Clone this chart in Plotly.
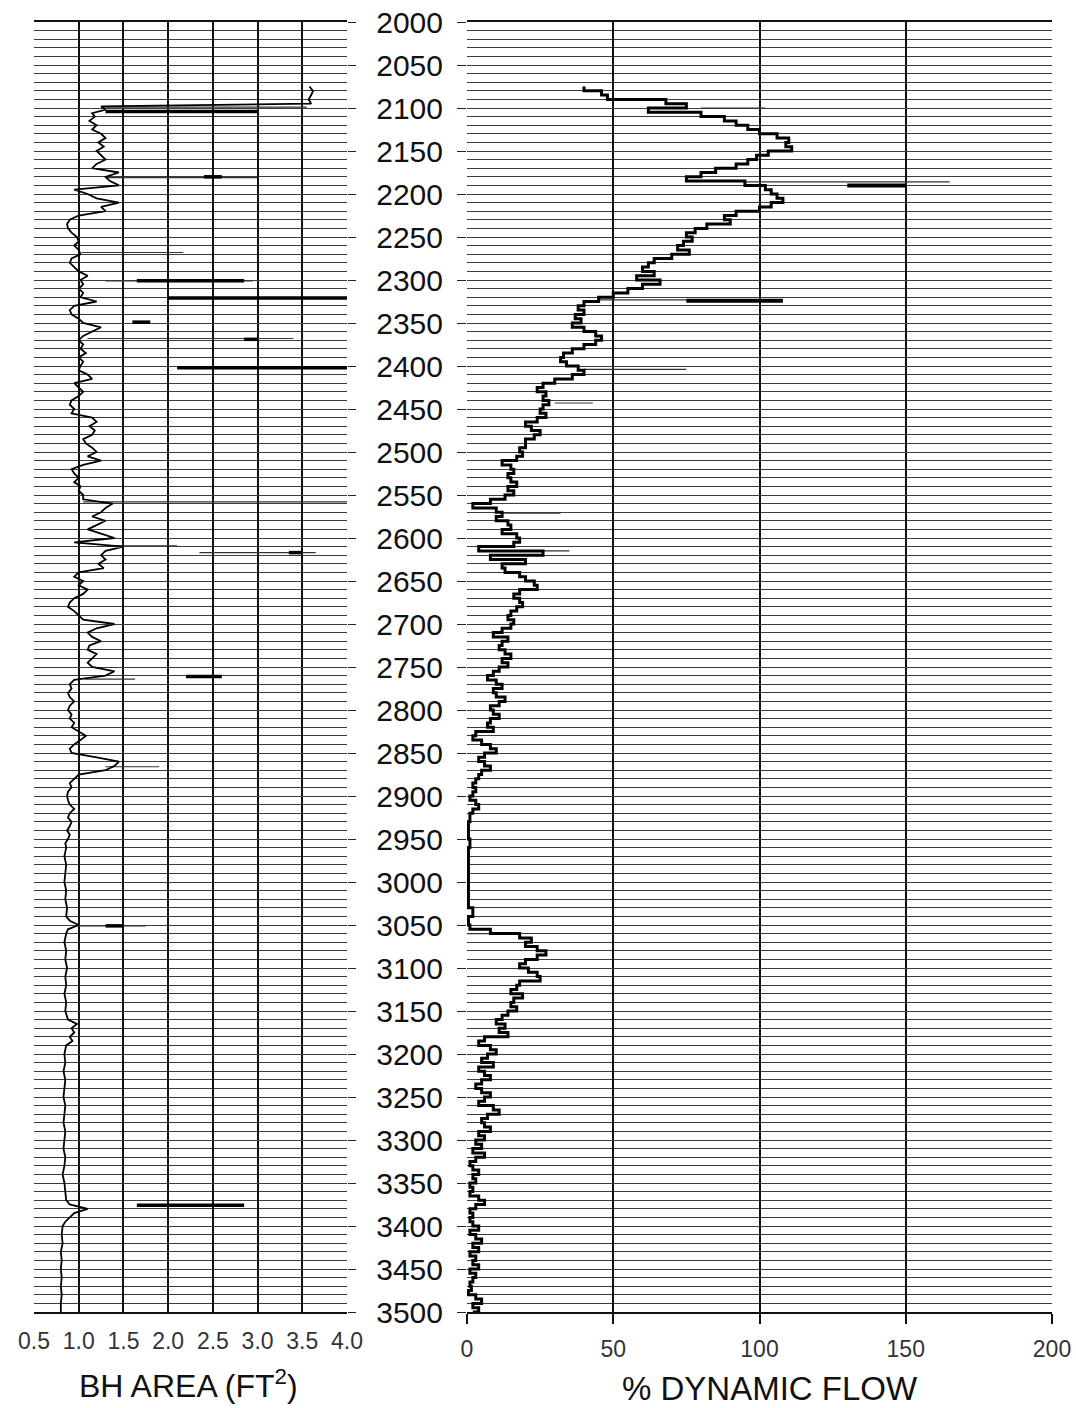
import plotly.graph_objects as go

W, H = 1076, 1408

# ---------------- data ----------------
depth_ticks = list(range(2000, 3501, 50))
bh_ticks = [0.5, 1.0, 1.5, 2.0, 2.5, 3.0, 3.5, 4.0]
flow_ticks = [0, 50, 100, 150, 200]

bh_depth = [
    2075, 2080, 2085, 2090, 2095, 2098, 2102, 2106, 2110, 2115,
    2120, 2125, 2130, 2135, 2140, 2145, 2150, 2155, 2160, 2165,
    2170, 2175, 2180, 2185, 2190, 2195, 2200, 2205, 2210, 2215,
    2220, 2225, 2230, 2235, 2240, 2245, 2250, 2255, 2260, 2265,
    2270, 2275, 2280, 2285, 2290, 2295, 2300, 2305, 2310, 2315,
    2320, 2325, 2330, 2335, 2340, 2345, 2350, 2355, 2360, 2365,
    2370, 2375, 2380, 2385, 2390, 2395, 2400, 2405, 2410, 2415,
    2420, 2425, 2430, 2435, 2440, 2445, 2450, 2455, 2460, 2465,
    2470, 2475, 2480, 2485, 2490, 2495, 2500, 2505, 2510, 2515,
    2520, 2525, 2530, 2535, 2540, 2545, 2550, 2555, 2560, 2565,
    2570, 2575, 2580, 2585, 2590, 2595, 2600, 2605, 2610, 2615,
    2620, 2625, 2630, 2635, 2640, 2645, 2650, 2655, 2660, 2665,
    2670, 2675, 2680, 2685, 2690, 2695, 2700, 2705, 2710, 2715,
    2720, 2725, 2730, 2735, 2740, 2745, 2750, 2755, 2760, 2765,
    2770, 2775, 2780, 2785, 2790, 2795, 2800, 2805, 2810, 2815,
    2820, 2825, 2830, 2835, 2840, 2845, 2850, 2855, 2860, 2865,
    2870, 2875, 2880, 2885, 2890, 2895, 2900, 2905, 2910, 2915,
    2920, 2925, 2930, 2935, 2940, 2945, 2950, 2955, 2960, 2970,
    2980, 2990, 3000, 3010, 3020, 3030, 3040, 3045, 3050, 3055,
    3060, 3070, 3080, 3090, 3100, 3110, 3120, 3130, 3140, 3150,
    3160, 3165, 3170, 3175, 3180, 3185, 3190, 3200, 3210, 3220,
    3230, 3240, 3250, 3260, 3270, 3280, 3290, 3300, 3310, 3320,
    3330, 3340, 3350, 3360, 3370, 3375, 3380, 3385, 3390, 3395,
    3400, 3410, 3420, 3430, 3440, 3450, 3460, 3470, 3480, 3490,
    3500,
]
bh_area = [
    3.58, 3.62, 3.60, 3.57, 3.60, 1.25, 1.30, 1.15, 1.18, 1.12,
    1.20, 1.15, 1.25, 1.30, 1.22, 1.28, 1.20, 1.25, 1.30, 1.20,
    1.15, 1.45, 1.30, 1.35, 1.45, 0.95, 1.10, 1.20, 1.45, 1.25,
    1.30, 1.00, 0.90, 0.87, 0.88, 0.92, 0.98, 1.00, 0.95, 1.00,
    1.02, 0.92, 0.90, 0.95, 1.00, 1.10, 1.02, 1.05, 1.00, 1.05,
    1.02, 1.20, 0.95, 0.90, 0.92, 1.00, 1.05, 1.25, 1.15, 1.05,
    1.00, 1.05, 1.02, 1.08, 1.00, 1.05, 1.02, 1.00, 1.10, 1.15,
    0.95, 1.00, 1.05, 1.00, 0.92, 0.90, 0.95, 0.92, 1.15, 1.20,
    1.12, 1.18, 1.15, 1.05, 1.08, 1.15, 1.20, 1.10, 1.25, 1.05,
    0.92, 0.95, 1.00, 0.95, 1.02, 1.00, 1.05, 1.05, 1.38, 1.30,
    1.25, 1.15, 1.30, 1.20, 1.10, 1.25, 1.40, 0.95, 1.50, 1.30,
    1.25, 1.30, 1.22, 1.28, 1.00, 0.95, 1.05, 1.00, 1.10, 1.05,
    0.95, 0.90, 0.88, 0.95, 1.00, 1.05, 1.40, 1.20, 1.10, 1.15,
    1.25, 1.12, 1.10, 1.20, 1.15, 1.10, 1.15, 1.40, 1.30, 0.95,
    0.90, 0.92, 0.88, 0.90, 0.95, 0.90, 0.88, 0.92, 0.90, 0.95,
    0.92, 1.00, 1.08, 1.02, 0.95, 0.90, 0.92, 1.20, 1.45, 1.40,
    1.30, 1.00, 0.95, 0.90, 0.92, 0.88, 0.87, 0.88, 0.90, 0.95,
    0.90, 0.88, 0.92, 0.90, 0.87, 0.90, 0.88, 0.85, 0.86, 0.84,
    0.86, 0.85, 0.84, 0.86, 0.85, 0.87, 0.86, 0.90, 1.00, 0.88,
    0.86, 0.84, 0.86, 0.85, 0.87, 0.85, 0.86, 0.84, 0.86, 0.85,
    0.88, 0.98, 0.92, 0.95, 0.90, 0.93, 0.86, 0.84, 0.85, 0.83,
    0.85, 0.84, 0.83, 0.85, 0.84, 0.83, 0.85, 0.84, 0.83, 0.85,
    0.84, 0.82, 0.84, 0.85, 0.86, 0.90, 1.10, 0.95, 0.90, 0.85,
    0.82, 0.81, 0.82, 0.80, 0.81, 0.80, 0.81, 0.80, 0.81, 0.80,
    0.80,
]

# thin and heavy horizontal excursions on the BH area track
bh_thin_depth = [2099, 2181, 2268, 2301, 2368, 2558, 2609, 2617, 2764, 2866, 3051]
bh_thin_from = [1.25, 1.30, 1.03, 1.30, 1.10, 1.05, 1.30, 2.35, 1.07, 1.30, 0.96]
bh_thin_to = [3.55, 3.00, 2.17, 2.95, 3.40, 4.00, 2.10, 3.65, 1.63, 1.90, 1.75]
bh_bar_depth = [2104, 2180, 2301, 2321, 2349, 2369, 2402, 2617, 2761, 3051, 3376]
bh_bar_from = [1.30, 2.40, 1.65, 2.00, 1.60, 2.85, 2.10, 3.35, 2.20, 1.30, 1.65]
bh_bar_to = [3.00, 2.60, 2.85, 4.00, 1.80, 3.00, 4.00, 3.50, 2.60, 1.50, 2.85]

flow_depth = (list(range(2075, 2925, 5)) + list(range(2930, 3050, 10))
              + list(range(3050, 3505, 5)))
flow_pct = [
    40, 46, 48, 68, 75, 62, 80, 88, 92, 96,
    100, 106, 110, 109, 111, 103, 99, 96, 92, 85,
    80, 75, 95, 102, 104, 106, 108, 104, 100, 92,
    88, 90, 82, 78, 75, 77, 74, 72, 76, 70,
    64, 62, 60, 64, 58, 66, 60, 55, 50, 45,
    40, 38, 40, 37, 39, 36, 40, 44, 46, 44,
    40, 36, 33, 32, 34, 38, 40, 36, 30, 26,
    24, 27, 26, 28, 26, 25, 27, 24, 20, 22,
    25, 23, 20, 20, 18, 19, 17, 12, 15, 16,
    14, 15, 17, 14, 16, 13, 8, 2, 10, 12,
    10, 14, 15, 12, 17, 18, 16, 4, 26, 8,
    20, 12, 13, 18, 20, 23, 24, 18, 16, 18,
    19, 17, 15, 14, 16, 15, 12, 9, 14, 12,
    11, 13, 15, 12, 14, 11, 9, 7, 10, 12,
    9, 10, 13, 11, 8, 9, 11, 8, 7, 9,
    3, 2, 5, 8, 10, 6, 4, 6, 8, 5,
    4, 3, 2, 3, 2, 1, 3, 4, 2, 1,
    0.5, 0.5, 1, 0.5, 0.5, 0.5, 0.5, 0.5, 0.5, 0.5, 2, 0.5,
    1, 8, 18, 22, 20, 24, 27, 24, 20, 18,
    21, 24, 25, 18, 17, 15, 19, 16, 15, 17,
    14, 12, 10, 13, 11, 14, 6, 4, 8, 10,
    7, 5, 9, 4, 6, 8, 5, 3, 5, 8,
    6, 4, 9, 11, 7, 5, 6, 8, 4, 6,
    3, 5, 2, 6, 3, 1, 2, 4, 2, 3,
    1, 2, 1, 4, 6, 3, 1, 2, 1, 2,
    4, 1, 3, 5, 2, 4, 1, 3, 2, 4,
    1, 3, 2, 1, 1.5, 0.5, 3, 5, 2, 4,
    2,
]

flow_thin_depth = [2100, 2186, 2323, 2404, 2443, 2571, 2615, 3060]
flow_thin_from = [80, 95, 45, 40, 30, 12, 20, 0]
flow_thin_to = [102, 165, 100, 75, 43, 32, 35, 15]
flow_bar_depth = [2190, 2324]
flow_bar_from = [130, 75]
flow_bar_to = [150, 108]


def segs(depths, a, b):
    xs, ys = [], []
    for d, x0, x1 in zip(depths, a, b):
        xs += [x0, x1, None]
        ys += [d, d, None]
    return xs, ys


fig = go.Figure()

# left track
x, y = segs(bh_thin_depth, bh_thin_from, bh_thin_to)
fig.add_trace(go.Scatter(x=x, y=y, mode="lines", xaxis="x", yaxis="y",
                         line=dict(color="#333", width=1.2), showlegend=False, hoverinfo="skip"))
x, y = segs(bh_bar_depth, bh_bar_from, bh_bar_to)
fig.add_trace(go.Scatter(x=x, y=y, mode="lines", xaxis="x", yaxis="y",
                         line=dict(color="#000", width=3.5), showlegend=False, hoverinfo="skip"))
fig.add_trace(go.Scatter(x=bh_area, y=bh_depth, mode="lines", xaxis="x", yaxis="y",
                         line=dict(color="#000", width=1.8), showlegend=False))

# right track
x, y = segs(flow_thin_depth, flow_thin_from, flow_thin_to)
fig.add_trace(go.Scatter(x=x, y=y, mode="lines", xaxis="x2", yaxis="y",
                         line=dict(color="#333", width=1.2), showlegend=False, hoverinfo="skip"))
x, y = segs(flow_bar_depth, flow_bar_from, flow_bar_to)
fig.add_trace(go.Scatter(x=x, y=y, mode="lines", xaxis="x2", yaxis="y",
                         line=dict(color="#000", width=4), showlegend=False, hoverinfo="skip"))
fig.add_trace(go.Scatter(x=flow_pct, y=flow_depth, mode="lines", xaxis="x2", yaxis="y",
                         line=dict(color="#000", width=3, shape="vh"), showlegend=False))

# placeholder so the right-hand tick axis of the left track is drawn
fig.add_trace(go.Scatter(x=[None], y=[None], xaxis="x", yaxis="y2", showlegend=False))

grid_col = "#3c3c3c"
narrow = "Liberation Sans Narrow, Liberation Sans, Arial, sans-serif"
normal = "Liberation Sans, Arial, sans-serif"

fig.update_layout(
    width=W, height=H, autosize=False,
    margin=dict(l=0, r=0, t=0, b=0, pad=0, autoexpand=False),
    paper_bgcolor="white", plot_bgcolor="white",
    showlegend=False,
    xaxis=dict(
        domain=[34 / W, 347 / W], range=[0.5, 4.0], anchor="y", automargin=False,
        tickmode="array", tickvals=bh_ticks, ticktext=[f"{v:.1f}" for v in bh_ticks],
        ticks="", ticklabelstandoff=8,
        tickfont=dict(family=narrow, size=23, color="#333"),
        showgrid=True, gridcolor="#111", gridwidth=2,
        showline=True, mirror=True, linecolor="#111", linewidth=1.5,
        zeroline=False,
    ),
    xaxis2=dict(
        domain=[467 / W, 1052 / W], range=[0, 200], anchor="y", automargin=False,
        tickmode="array", tickvals=flow_ticks,
        ticks="outside", ticklen=10, tickwidth=1.5, tickcolor="#111",
        ticklabelstandoff=6,
        tickfont=dict(family=narrow, size=23, color="#333"),
        showgrid=True, gridcolor="#111", gridwidth=2,
        showline=True, mirror=True, linecolor="#111", linewidth=1.5,
        zeroline=False,
    ),
    yaxis=dict(
        domain=[96 / H, 1386 / H], range=[3500, 2000], anchor="x2", side="left",
        automargin=False,
        tickmode="array", tickvals=depth_ticks,
        ticks="outside", ticklen=9, tickwidth=1, tickcolor="#222",
        ticklabelstandoff=8,
        tickfont=dict(family=normal, size=30, color="#111"),
        showgrid=True, gridcolor=grid_col, gridwidth=1.2,
        minor=dict(dtick=10, tick0=2000, showgrid=True, gridcolor=grid_col,
                   gridwidth=1.2, ticks=""),
        zeroline=False, showline=False,
    ),
    yaxis2=dict(
        overlaying="y", matches="y", anchor="x", side="right", automargin=False,
        tickmode="array", tickvals=depth_ticks,
        ticks="outside", ticklen=8, tickwidth=1, tickcolor="#222",
        showticklabels=False, showgrid=False, zeroline=False, showline=False,
    ),
    annotations=[
        dict(text="BH AREA (FT<sup>2</sup>)", xref="paper", yref="paper",
             x=188 / W, y=1 - 1384 / H, xanchor="center", yanchor="middle",
             showarrow=False, font=dict(family=normal, size=32, color="#111")),
        dict(text="% DYNAMIC FLOW", xref="paper", yref="paper",
             x=770 / W, y=1 - 1388 / H, xanchor="center", yanchor="middle",
             showarrow=False, font=dict(family=normal, size=33, color="#111")),
    ],
)

fig.write_html("out.html")
